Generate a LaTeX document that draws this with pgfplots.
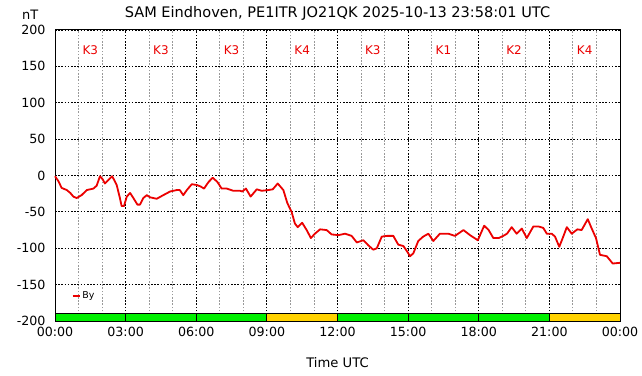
\documentclass[border=0pt]{standalone}
\usepackage{pgfplots}
\pgfplotsset{compat=1.18}
\usepackage{fontspec}
\setmainfont{DejaVu Sans}
\definecolor{kgreen}{RGB}{0,240,0}
\definecolor{kgold}{RGB}{255,210,0}
\definecolor{lred}{RGB}{235,0,0}
\begin{document}
\begin{tikzpicture}
\useasboundingbox (-55bp,-55bp) rectangle (587bp,321bp);
\begin{axis}[
  at={(0,0)}, anchor=south west,
  width=565bp, height=291bp, scale only axis,
  xmin=0, xmax=24, ymin=-200, ymax=200,
  xtick={0,3,...,24},
  xticklabels={00:00,03:00,06:00,09:00,12:00,15:00,18:00,21:00,00:00},
  minor xtick={1,2,4,5,7,8,10,11,13,14,16,17,19,20,22,23},
  ytick={-200,-150,...,200},
  major tick length=0pt, minor tick length=0pt,
  xmajorgrids, ymajorgrids, xminorgrids,
  major grid style={black, line width=0.9bp, dash pattern=on 1.6bp off 1.6bp},
  minor grid style={gray!80, line width=0.9bp, dash pattern=on 1.6bp off 1.6bp},
  axis line style={black, line width=1bp},
  /pgf/number format/assume math mode=true,
  tick label style={font=\fontsize{12.7}{14}\selectfont},
  yticklabel style={xshift=-6bp},
  xticklabel style={yshift=-3bp},
  xlabel={Time UTC},
  xlabel style={font=\fontsize{13.2}{15}\selectfont, at={(axis description cs:0.5,0)}, anchor=center, yshift=-41.5bp},
  title={SAM Eindhoven, PE1ITR JO21QK 2025-10-13 23:58:01 UTC},
  title style={font=\fontsize{14.6}{17}\selectfont, at={(axis description cs:0.5,1)}, anchor=center, yshift=11bp},
  legend style={draw=none, fill=none, font=\fontsize{9.5}{10}\selectfont, at={(axis description cs:0.03,0.086)}, anchor=west, inner sep=0pt, row sep=0pt},
  legend cell align=left,
  legend image code/.code={\draw[lred, line width=1.2bp] (0bp,0bp) -- (7bp,0bp);},
  clip=false,
  axis on top=false,
]
\addplot[draw=black, line width=1bp, fill=kgreen, forget plot] coordinates {(0,-200) (0,-189.5) (3,-189.5) (3,-200)} -- cycle;
\addplot[draw=black, line width=1bp, fill=kgreen, forget plot] coordinates {(3,-200) (3,-189.5) (6,-189.5) (6,-200)} -- cycle;
\addplot[draw=black, line width=1bp, fill=kgreen, forget plot] coordinates {(6,-200) (6,-189.5) (9,-189.5) (9,-200)} -- cycle;
\addplot[draw=black, line width=1bp, fill=kgold, forget plot] coordinates {(9,-200) (9,-189.5) (12,-189.5) (12,-200)} -- cycle;
\addplot[draw=black, line width=1bp, fill=kgreen, forget plot] coordinates {(12,-200) (12,-189.5) (15,-189.5) (15,-200)} -- cycle;
\addplot[draw=black, line width=1bp, fill=kgreen, forget plot] coordinates {(15,-200) (15,-189.5) (18,-189.5) (18,-200)} -- cycle;
\addplot[draw=black, line width=1bp, fill=kgreen, forget plot] coordinates {(18,-200) (18,-189.5) (21,-189.5) (21,-200)} -- cycle;
\addplot[draw=black, line width=1bp, fill=kgold, forget plot] coordinates {(21,-200) (21,-189.5) (24,-189.5) (24,-200)} -- cycle;
\addplot[lred, line width=1.8bp, line join=round] table {
0.00 -1
0.15 -8
0.28 -17
0.5 -20
0.65 -24
0.78 -29
0.92 -31
1.13 -27
1.35 -20
1.63 -18
1.77 -14
1.91 -1
2.02 -5
2.12 -11
2.27 -6
2.43 -1
2.62 -13
2.75 -30
2.83 -42
2.93 -42
3.05 -29
3.19 -24
3.33 -31
3.5 -40
3.61 -40
3.75 -31
3.9 -27
4.04 -30
4.32 -32
4.6 -27
4.89 -22
5.17 -20
5.3 -20
5.45 -27
5.6 -20
5.81 -12
6.02 -13
6.18 -15
6.33 -18
6.52 -9
6.7 -3
6.9 -9
7.08 -18
7.3 -18
7.57 -21
7.86 -21
7.95 -22
8.11 -18
8.31 -29
8.57 -19
8.78 -21
9.06 -20
9.25 -19
9.46 -11
9.7 -20
9.87 -38
10.05 -50
10.19 -66
10.31 -71
10.5 -65
10.69 -75
10.87 -86
11.04 -80
11.26 -74
11.54 -75
11.75 -81
12.04 -82
12.32 -80
12.6 -83
12.82 -92
13.1 -89
13.31 -96
13.52 -102
13.67 -100
13.88 -84
14.09 -83
14.37 -83
14.58 -95
14.8 -97
14.97 -105
15.08 -111
15.22 -107
15.43 -90
15.64 -84
15.86 -80
16.07 -90
16.35 -80
16.71 -80
16.99 -83
17.35 -75
17.63 -82
17.96 -89
18.23 -69
18.42 -75
18.62 -86
18.85 -86
19.04 -83
19.2 -80
19.4 -71
19.61 -80
19.83 -73
20.04 -86
20.32 -70
20.53 -70
20.74 -72
20.89 -80
21.1 -80
21.24 -84
21.42 -98
21.59 -84
21.74 -71
21.95 -80
22.19 -74
22.37 -75
22.63 -60
22.8 -73
22.98 -86
23.15 -109
23.44 -111
23.69 -121
24 -120
};
\addlegendentry{By}
\node[lred, font=\fontsize{12}{14}\selectfont] at (axis cs:1.5,172) {K3};
\node[lred, font=\fontsize{12}{14}\selectfont] at (axis cs:4.5,172) {K3};
\node[lred, font=\fontsize{12}{14}\selectfont] at (axis cs:7.5,172) {K3};
\node[lred, font=\fontsize{12}{14}\selectfont] at (axis cs:10.5,172) {K4};
\node[lred, font=\fontsize{12}{14}\selectfont] at (axis cs:13.5,172) {K3};
\node[lred, font=\fontsize{12}{14}\selectfont] at (axis cs:16.5,172) {K1};
\node[lred, font=\fontsize{12}{14}\selectfont] at (axis cs:19.5,172) {K2};
\node[lred, font=\fontsize{12}{14}\selectfont] at (axis cs:22.5,172) {K4};
\node[font=\fontsize{13}{15}\selectfont] at (axis description cs:-0.044,1.052) {nT};
\end{axis}
\end{tikzpicture}
\end{document}
